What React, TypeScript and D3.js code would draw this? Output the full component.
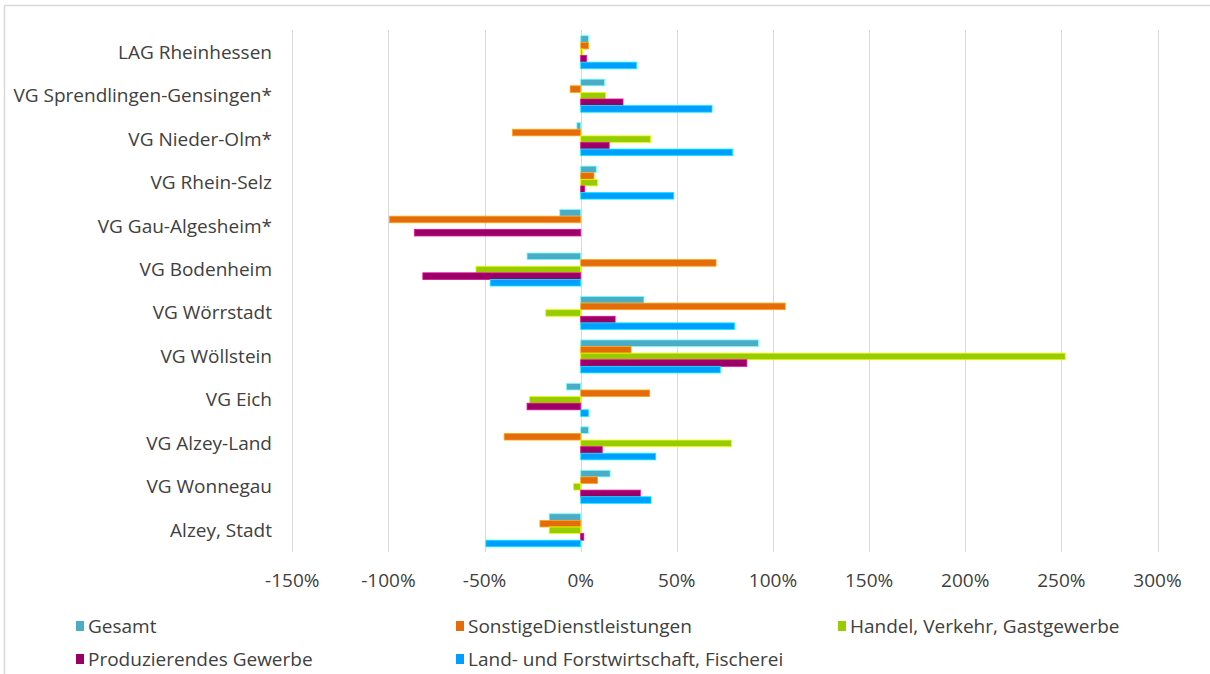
import React from "react";
import * as d3 from "d3";

const categories = [
  "LAG Rheinhessen",
  "VG Sprendlingen-Gensingen*",
  "VG Nieder-Olm*",
  "VG Rhein-Selz",
  "VG Gau-Algesheim*",
  "VG Bodenheim",
  "VG Wörrstadt",
  "VG Wöllstein",
  "VG Eich",
  "VG Alzey-Land",
  "VG Wonnegau",
  "Alzey, Stadt",
];

const seriesNames = [
  "Gesamt",
  "SonstigeDienstleistungen",
  "Handel, Verkehr, Gastgewerbe",
  "Produzierendes Gewerbe",
  "Land- und Forstwirtschaft, Fischerei",
];

const seriesColors = ["#4BACC6", "#E46C0A", "#99CC00", "#990066", "#009EFF"];

// values in percent, per category in the order above
const gesamt = [4, 12.4, -2, 8.1, -10.9, -27.9, 32.9, 92.4, -7.4, 4, 15.3, -16.4];
const sonstige = [4, -5.5, -35.5, 6.9, -99.5, 70.4, 106.4, 26.2, 35.9, -39.8, 8.8, -21.2];
const handel = [1, 13, 36.4, 8.8, 0, -54.5, -18.2, 252, -26.7, 78.4, -3.8, -16.4];
const produzierendes = [3, 22, 14.8, 2, -86.4, -82.1, 17.9, 86.4, -27.9, 11.2, 31, 1.6];
const land = [29, 68.3, 79, 48.4, 0, -47.1, 80, 72.6, 4, 39, 36.6, -49.3];

const seriesValues = [gesamt, sonstige, handel, produzierendes, land];

const xTicks = [-150, -100, -50, 0, 50, 100, 150, 200, 250, 300];

const W = 1210;
const H = 674;
const FONT = "'Open Sans', sans-serif";
const FS = 19;

export default function App() {
  const x = d3.scaleLinear().domain([-150, 300]).range([292.3, 1157.5]);
  const y = d3
    .scaleBand<string>()
    .domain(categories)
    .range([30.5, 552])
    .paddingInner(0.24)
    .paddingOuter(0.12);
  const yInner = d3
    .scaleBand<number>()
    .domain(d3.range(seriesNames.length))
    .range([0, y.bandwidth()]);
  const yLabel = d3.scaleBand<string>().domain(categories).range([30.5, 552]);

  const legendItems = [
    { i: 0, x: 76, y: 626 },
    { i: 1, x: 456, y: 626 },
    { i: 2, x: 838, y: 626 },
    { i: 3, x: 76, y: 659 },
    { i: 4, x: 456, y: 659 },
  ];

  return (
    <svg
      width={W}
      height={H}
      style={{ position: "absolute", left: 0, top: 0, background: "#fff" }}
      fontFamily={FONT}
    >
      <rect x={0} y={0} width={W} height={H} fill="#fff" />
      {/* frame */}
      <line x1={4.5} x2={4.5} y1={5} y2={H} stroke="#d9d9d9" strokeWidth={1.5} />
      <line x1={4} x2={W} y1={5.5} y2={5.5} stroke="#d9d9d9" strokeWidth={1.5} />

      {/* gridlines */}
      {xTicks.map((t) => (
        <line
          key={t}
          x1={Math.round(x(t)) + 0.5}
          x2={Math.round(x(t)) + 0.5}
          y1={30}
          y2={552}
          stroke="#d9d9d9"
          strokeWidth={1}
        />
      ))}

      {/* bars */}
      {categories.map((c, ci) => (
        <g key={c} transform={`translate(0,${y(c)})`}>
          {seriesValues.map((vals, si) => {
            const v = vals[ci];
            if (v === 0) return null;
            const x0 = x(Math.min(0, v));
            const x1 = x(Math.max(0, v));
            const col = seriesColors[si];
            return (
              <rect
                key={si}
                x={x0}
                y={yInner(si)}
                width={Math.max(1, x1 - x0)}
                height={yInner.bandwidth()}
                fill={col}
                stroke={d3.color(col)!.brighter(1.2).formatHex()}
                strokeWidth={0.8}
              />
            );
          })}
        </g>
      ))}

      {/* category labels */}
      {categories.map((c) => (
        <text
          key={c}
          x={272}
          y={(yLabel(c) as number) + yLabel.bandwidth() / 2 - 0.5}
          textAnchor="end"
          dominantBaseline="central"
          fontSize={FS}
          fill="#404040"
        >
          {c}
        </text>
      ))}

      {/* x tick labels */}
      {xTicks.map((t) => (
        <text
          key={t}
          x={x(t)}
          y={580}
          textAnchor="middle"
          dominantBaseline="central"
          fontSize={FS}
          fill="#404040"
        >
          {`${t}%`}
        </text>
      ))}

      {/* legend */}
      {legendItems.map((l) => (
        <g key={l.i}>
          <rect x={l.x} y={l.y - 5} width={8} height={10} fill={seriesColors[l.i]} />
          <text
            x={l.x + 12}
            y={l.y}
            dominantBaseline="central"
            fontSize={FS}
            fill="#404040"
          >
            {seriesNames[l.i]}
          </text>
        </g>
      ))}
    </svg>
  );
}
